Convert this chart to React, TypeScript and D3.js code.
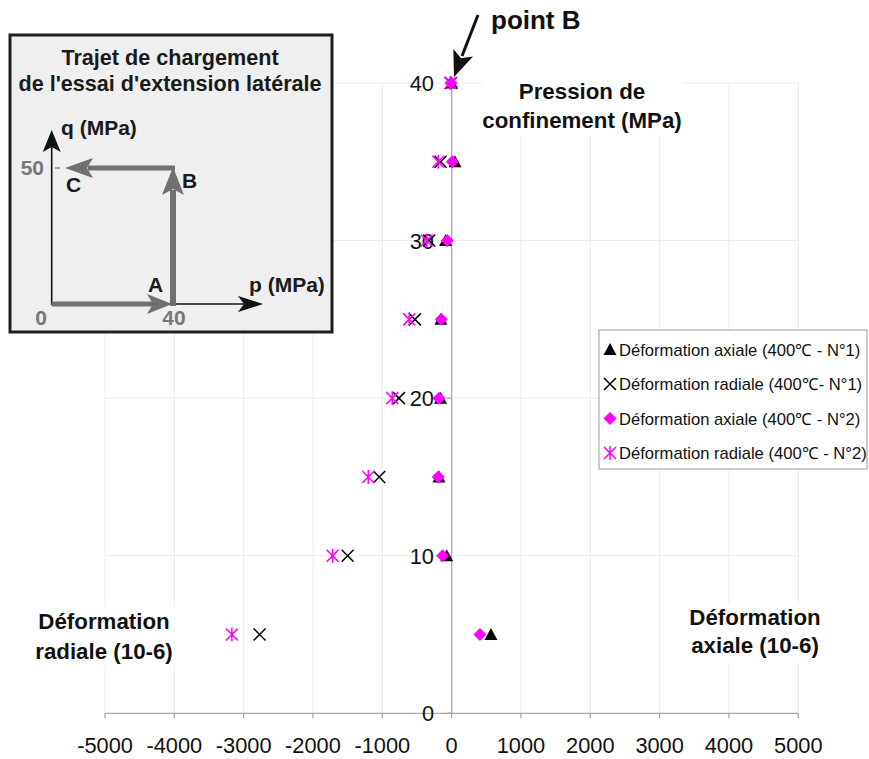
import React from "react";
import * as d3 from "d3";

const pressure = [5, 10, 15, 20, 25, 30, 35, 40];
const axialN1 = [567, -72, -183, -160, -155, -87, 48, 0];
const radialN1 = [-2770, -1500, -1045, -760, -530, -323, -160, -10];
const axialN2 = [408, -130, -193, -183, -150, -63, 10, -10];
const radialN2 = [-3170, -1717, -1203, -857, -612, -361, -193, -20];

const xTicks = [-5000, -4000, -3000, -2000, -1000, 0, 1000, 2000, 3000, 4000, 5000];
const yTicks = [0, 10, 20, 30, 40];

const legendLabels = [
  "Déformation axiale (400℃ - N°1)",
  "Déformation radiale (400℃- N°1)",
  "Déformation axiale (400℃ - N°2)",
  "Déformation radiale (400℃ - N°2)",
];
const seriesKinds = ["triangle", "cross", "diamond", "asterisk"];
const seriesData = [axialN1, radialN1, axialN2, radialN2];

const FONT = "'Liberation Sans', Arial, Helvetica, sans-serif";
const MAGENTA = "#ff00ff";

function Marker({ kind, x, y }: { kind: string; x: number; y: number }) {
  if (kind === "triangle") {
    return <path d={`M${x},${y - 6.5} L${x + 6.5},${y + 5.5} L${x - 6.5},${y + 5.5} Z`} fill="#000" />;
  }
  if (kind === "diamond") {
    return <path d={`M${x},${y - 6.5} L${x + 6.5},${y} L${x},${y + 6.5} L${x - 6.5},${y} Z`} fill={MAGENTA} />;
  }
  if (kind === "cross") {
    const s = 6;
    return (
      <path d={`M${x - s},${y - s} L${x + s},${y + s} M${x - s},${y + s} L${x + s},${y - s}`} stroke="#000" strokeWidth={1.5} fill="none" />
    );
  }
  const s = 6;
  return (
    <path
      d={`M${x - s},${y - s} L${x + s},${y + s} M${x - s},${y + s} L${x + s},${y - s} M${x},${y - 7} L${x},${y + 7}`}
      stroke={MAGENTA}
      strokeWidth={1.5}
      fill="none"
    />
  );
}

// notched arrowhead: tip at (tx,ty), pointing along direction (dx,dy)
function arrowHead(tx: number, ty: number, dx: number, dy: number, len: number, hw: number, notch: number) {
  const n = Math.hypot(dx, dy);
  const ux = dx / n, uy = dy / n;
  const px = -uy, py = ux;
  const bx = tx - ux * len, by = ty - uy * len;
  const nx = tx - ux * (len - notch), ny = ty - uy * (len - notch);
  return `M${tx},${ty} L${bx + px * hw},${by + py * hw} L${nx},${ny} L${bx - px * hw},${by - py * hw} Z`;
}

export default function App() {
  const x = d3.scaleLinear().domain([-5000, 5000]).range([105, 798.3]);
  const y = d3.scaleLinear().domain([0, 40]).range([713.3, 83]);
  const grid = "#ebebeb";
  const axisC = "#a8a8a8";
  const grey = "#707070";

  return (
    <svg width={869} height={759} style={{ position: "absolute", left: 0, top: 0, background: "#fff" }} fontFamily={FONT}>
      <rect x={0} y={0} width={869} height={759} fill="#fff" />
      {/* gridlines */}
      {xTicks.map((t) => (
        <line key={"gx" + t} x1={x(t)} x2={x(t)} y1={y(40)} y2={y(0)} stroke={grid} strokeWidth={1} />
      ))}
      {yTicks.filter((t) => t > 0).map((t) => (
        <line key={"gy" + t} x1={x(-5000)} x2={x(5000)} y1={y(t)} y2={y(t)} stroke={grid} strokeWidth={1} />
      ))}
      {/* axes */}
      <line x1={x(-5000)} x2={x(5000)} y1={y(0)} y2={y(0)} stroke={axisC} strokeWidth={1.3} />
      <line x1={x(0)} x2={x(0)} y1={y(0)} y2={y(40)} stroke={axisC} strokeWidth={1.3} />
      {xTicks.map((t) => (
        <g key={"tx" + t}>
          <line x1={x(t)} x2={x(t)} y1={y(0)} y2={y(0) + 5} stroke={axisC} strokeWidth={1.3} />
          <text x={x(t)} y={753} textAnchor="middle" fontSize={21.8} fill="#111">{t}</text>
        </g>
      ))}
      {yTicks.map((t) => (
        <g key={"ty" + t}>
          <line x1={x(0) - 5} x2={x(0)} y1={y(t)} y2={y(t)} stroke={axisC} strokeWidth={1.3} />
          <text x={434} y={y(t) + 8} textAnchor="end" fontSize={21.8} fill="#111">{t}</text>
        </g>
      ))}

      {/* annotation backgrounds */}
      <rect x={482} y={70} width={200} height={66} fill="#fff" />
      <rect x={688} y={603} width={134} height={60} fill="#fff" />
      <rect x={30} y={606} width={150} height={60} fill="#fff" />

      {/* data */}
      {seriesData.map((vals, si) => (
        <g key={"s" + si}>
          {vals.map((v, i) => (
            <Marker key={i} kind={seriesKinds[si]} x={x(v)} y={y(pressure[i])} />
          ))}
        </g>
      ))}

      {/* axis annotations */}
      <g fontWeight="bold" fontSize={22.3} fill="#111" textAnchor="middle">
        <text x={582} y={99}>Pression de</text>
        <text x={582} y={128}>confinement (MPa)</text>
        <text x={755} y={625}>Déformation</text>
        <text x={755} y={653}>axiale (10-6)</text>
        <text x={104} y={629}>Déformation</text>
        <text x={104} y={659}>radiale (10-6)</text>
      </g>

      {/* point B */}
      <text x={491} y={29} fontWeight="bold" fontSize={26} fill="#111">point B</text>
      <line x1={478} y1={15} x2={462} y2={56} stroke="#111" strokeWidth={3} />
      <path d={arrowHead(454, 77, -23, 61, 26, 10.5, 6)} fill="#111" />

      {/* legend */}
      <rect x={599} y={330} width={268} height={139} fill="#fff" stroke="#9a9a9a" strokeWidth={1} />
      {legendLabels.map((l, i) => (
        <g key={"lg" + i}>
          <Marker kind={seriesKinds[i]} x={610} y={349.5 + i * 34.5} />
          <text x={619} y={355.5 + i * 34.5} fontSize={16.6} fill="#111">{l}</text>
        </g>
      ))}

      {/* inset */}
      <rect x={10} y={35} width={322} height={297} fill="#eeefee" stroke="#1e1e1e" strokeWidth={3} />
      <g fontWeight="bold" fontSize={21.6} fill="#1a1a1a" textAnchor="middle">
        <text x={170} y={65}>Trajet de chargement</text>
        <text x={170} y={91}>de l'essai d'extension latérale</text>
      </g>
      {/* q axis */}
      <line x1={51.7} x2={51.7} y1={305} y2={145} stroke="#111" strokeWidth={1.6} />
      <path d={arrowHead(51.7, 130, 0, -1, 22, 9, 5)} fill="#111" />
      <text x={61} y={135} fontWeight="bold" fontSize={21} fill="#1a1a1a">q (MPa)</text>
      {/* p axis */}
      <line x1={51.7} x2={250} y1={304} y2={304} stroke="#111" strokeWidth={1.6} />
      <path d={arrowHead(263, 304, 1, 0, 25, 8, 6)} fill="#111" />
      <text x={249} y={292} fontWeight="bold" fontSize={21} fill="#1a1a1a">p (MPa)</text>
      {/* grey loading path */}
      <line x1={51.7} x2={152} y1={304} y2={304} stroke={grey} strokeWidth={5} />
      <path d={arrowHead(172, 304, 1, 0, 25, 10, 6)} fill={grey} />
      <line x1={173} x2={173} y1={306} y2={190} stroke={grey} strokeWidth={6} />
      <path d={arrowHead(173, 167, 0, -1, 28, 11, 6)} fill={grey} />
      <line x1={175} x2={88} y1={168} y2={168} stroke={grey} strokeWidth={5} />
      <path d={arrowHead(65, 168, -1, 0, 28, 10, 6)} fill={grey} />
      <line x1={55} x2={60} y1={168} y2={168} stroke={grey} strokeWidth={1.2} />
      <g fontWeight="bold" fontSize={21}>
        <text x={44} y={175} textAnchor="end" fill="#777">50</text>
        <text x={66} y={192} fill="#1a1a1a">C</text>
        <text x={182} y={188} fill="#1a1a1a">B</text>
        <text x={148} y={292} fill="#1a1a1a">A</text>
        <text x={41} y={325} textAnchor="middle" fill="#777">0</text>
        <text x={174} y={325} textAnchor="middle" fill="#777">40</text>
      </g>
    </svg>
  );
}
